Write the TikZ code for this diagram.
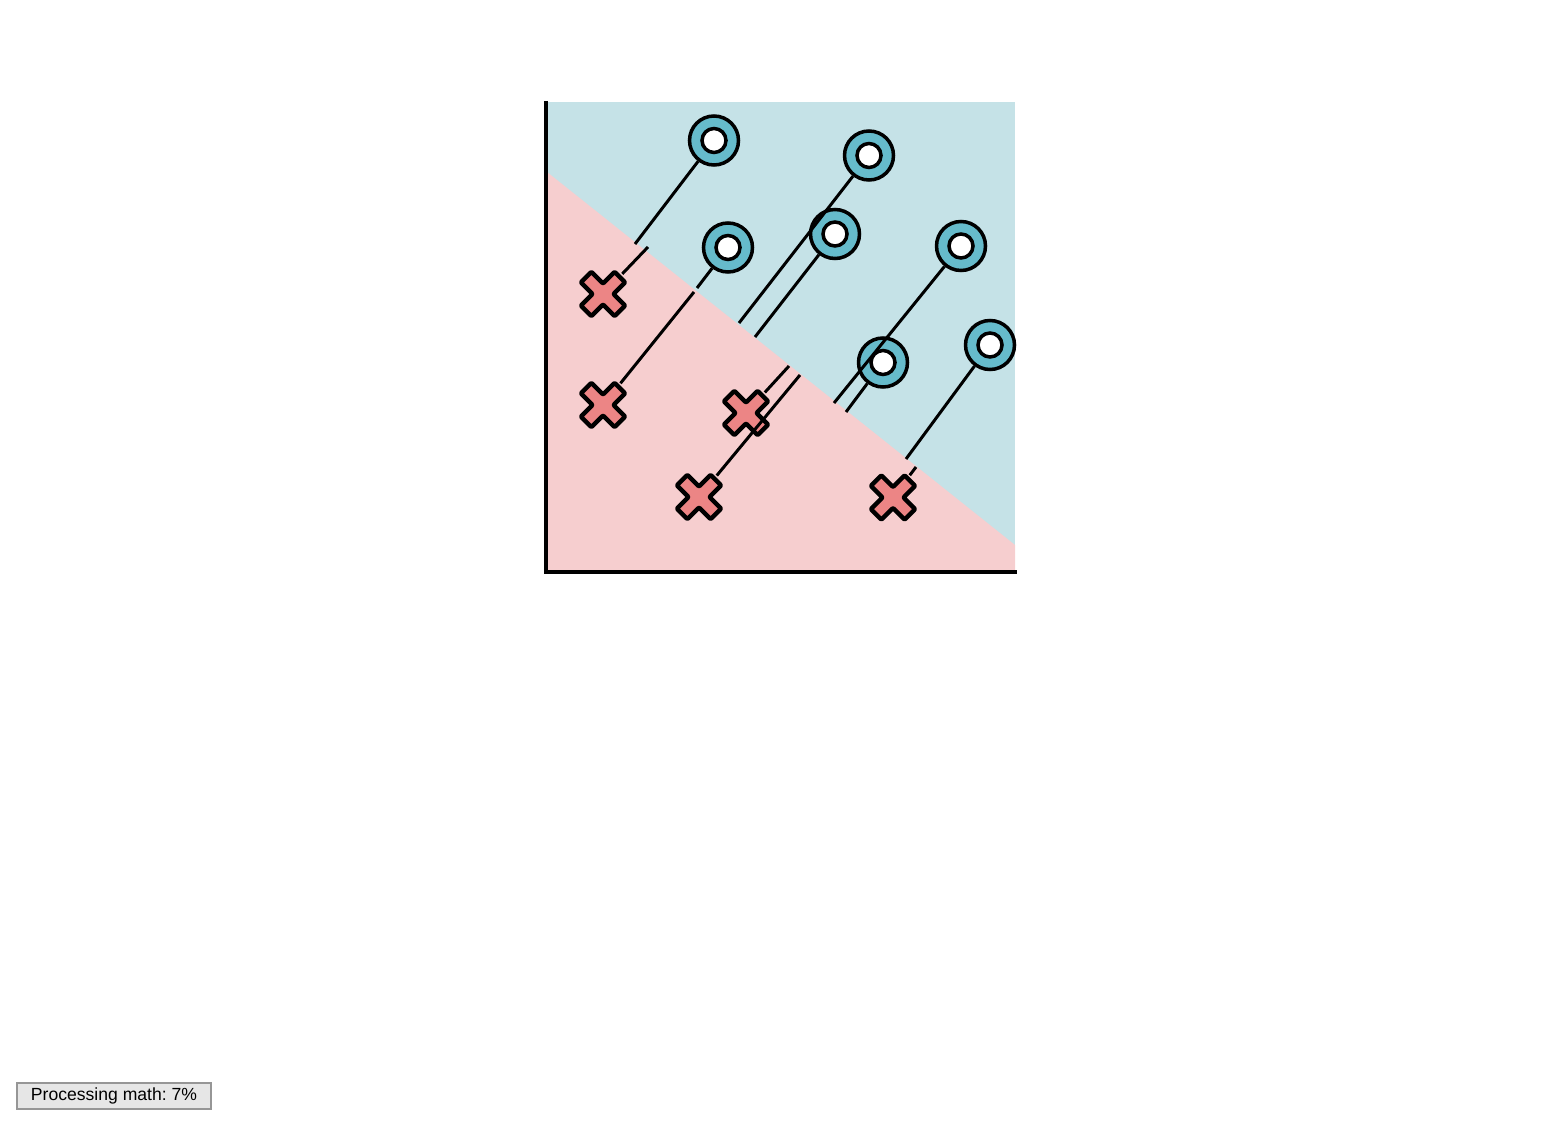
\documentclass[tikz,border=0pt]{standalone}
\usepackage{fontspec}
\setsansfont{Liberation Sans}
\usepackage{tikz}
\usepackage{xcolor}
\definecolor{bgblue}{HTML}{C5E2E7}
\definecolor{bgpink}{HTML}{F6CECF}
\definecolor{ringteal}{HTML}{66BBCB}
\definecolor{crossred}{HTML}{EC8585}
\definecolor{boxgray}{HTML}{E6E6E6}
\definecolor{boxline}{HTML}{969696}

\begin{document}
\begin{tikzpicture}[x=0.02cm, y=-0.02cm,
  ring/.style={circle, draw=black, line width=2pt, fill=ringteal, minimum size=0.98cm, inner sep=0pt,
    path picture={\draw[line width=2pt, fill=white] (path picture bounding box.center) circle (0.24cm);}},
  xmark/.style={circle, minimum size=1.1cm, inner sep=0pt,
    path picture={\draw[line width=2.5pt, line join=round, fill=crossred, rounded corners=0.5pt,
      shift={(path picture bounding box.center)}]
      (62.35:0.50cm) -- (90:0.21cm) -- (117.65:0.50cm) -- (152.35:0.50cm) -- (180:0.21cm)
      -- (207.65:0.50cm) -- (242.35:0.50cm) -- (270:0.21cm) -- (297.65:0.50cm)
      -- (332.35:0.50cm) -- (0:0.21cm) -- (27.65:0.50cm) -- cycle;}},
  margin/.style={line width=1.7pt},
  mathbox/.style={draw=boxline, fill=boxgray, line width=0.6pt, minimum width=3.88cm, minimum height=0.52cm,
    inner sep=0pt, font=\sffamily\fontsize{10}{12}\selectfont}]

  \useasboundingbox (0,0) rectangle (1561,1138);

  \fill[bgblue] (547,102) rectangle (1015,572);
  \fill[bgpink] (547,172) -- (1015,545) -- (1015,572) -- (547,572) -- cycle;
  \draw[line width=2pt] (546,101) -- (546,572) -- (1017,572);

  \node[ring] (o1) at (714,140.5) {};
  \node[ring] (o2) at (869,155.5) {};
  \node[ring] (o3) at (835,234) {};
  \node[ring] (o4) at (728,247.5) {};
  \node[ring] (o5) at (961,246) {};
  \node[ring] (o6) at (883,362.5) {};
  \node[ring] (o7) at (990,345) {};

  \node[xmark] (x1) at (603,294) {};
  \node[xmark] (x2) at (603,405) {};
  \node[xmark] (x3) at (746,413) {};
  \node[xmark] (x4) at (699,497) {};
  \node[xmark] (x5) at (893,497.5) {};

  \coordinate (fo1) at (635,244);
  \coordinate (fo2) at (739,323);
  \coordinate (fo3) at (755,337);
  \coordinate (fo4) at (697,288);
  \coordinate (fo5) at (834,403);
  \coordinate (fo6) at (846,412);
  \coordinate (fo7) at (906,459);
  \coordinate (fx1) at (648,247);
  \coordinate (fx2) at (694,292);
  \coordinate (fx3) at (789,366);
  \coordinate (fx4) at (800,375);
  \coordinate (fx5) at (916,467);

  \draw[margin] (o1) -- (fo1);
  \draw[margin] (o2) -- (fo2);
  \draw[margin] (o3) -- (fo3);
  \draw[margin] (o4) -- (fo4);
  \draw[margin] (o5) -- (fo5);
  \draw[margin] (o6) -- (fo6);
  \draw[margin] (o7) -- (fo7);
  \draw[margin] (x1) -- (fx1);
  \draw[margin] (x2) -- (fx2);
  \draw[margin] (x3) -- (fx3);
  \draw[margin] (x4) -- (fx4);
  \draw[margin] (x5) -- (fx5);

  \node[mathbox] (status) at (114,1096) {\frenchspacing Processing math: 7\%};
\end{tikzpicture}
\end{document}
